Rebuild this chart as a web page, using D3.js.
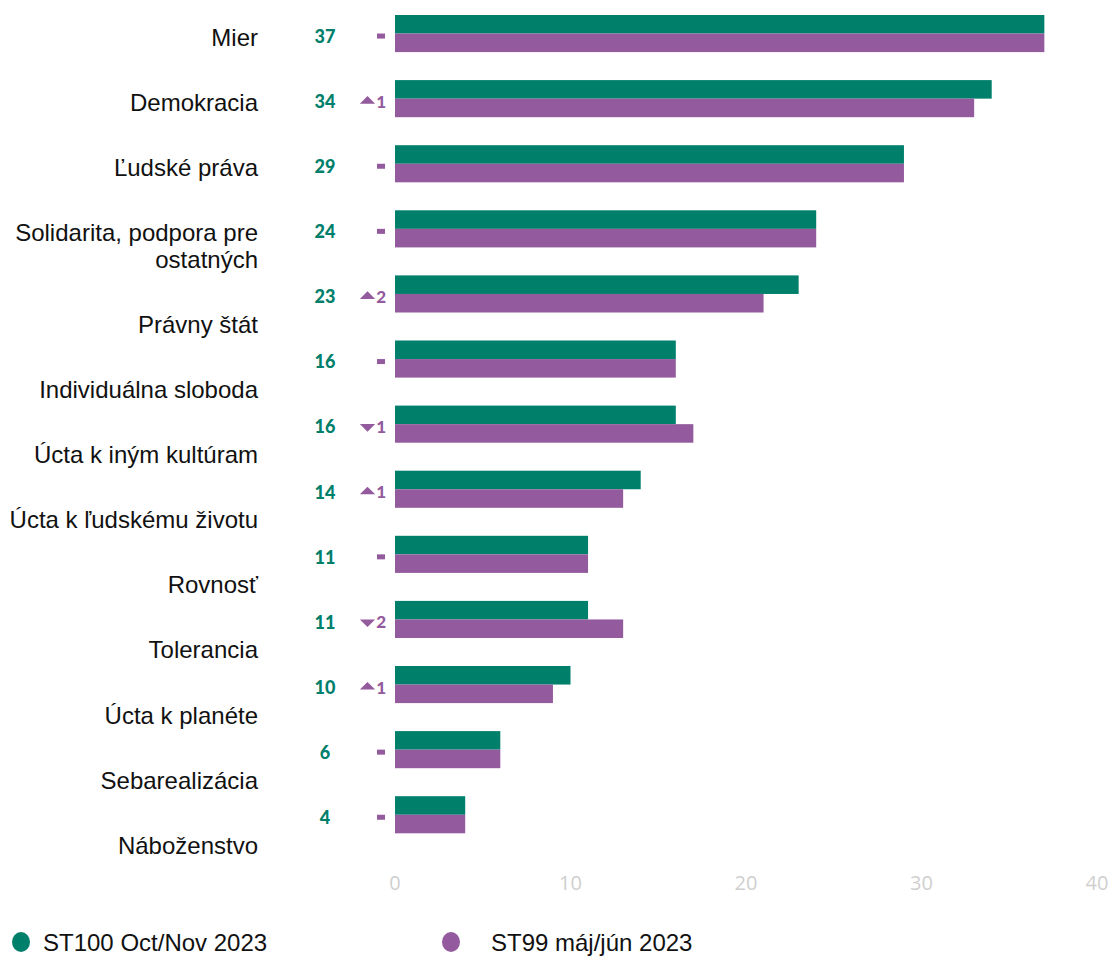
<!DOCTYPE html>
<html>
<head>
<meta charset="utf-8">
<script src="https://cdn.jsdelivr.net/npm/d3@7"></script>
<style>
  body { margin: 0; background: #fff; }
  svg { display: block; }
</style>
</head>
<body>
<svg id="chart" width="1115" height="957"></svg>
<script>
// Data
const categories = ["Mier", "Demokracia", "Ľudské práva", "Solidarita, podpora pre ostatných", "Právny štát",
    "Individuálna sloboda", "Úcta k iným kultúram", "Úcta k ľudskému životu", "Rovnosť", "Tolerancia",
    "Úcta k planéte", "Sebarealizácia", "Náboženstvo"];
const label_lines = [["Mier"], ["Demokracia"], ["Ľudské práva"], ["Solidarita, podpora pre", "ostatných"], ["Právny štát"],
    ["Individuálna sloboda"], ["Úcta k iným kultúram"], ["Úcta k ľudskému životu"], ["Rovnosť"], ["Tolerancia"],
    ["Úcta k planéte"], ["Sebarealizácia"], ["Náboženstvo"]];
const st100 = [37, 34, 29, 24, 23, 16, 16, 14, 11, 11, 10, 6, 4];
const st99 = [37, 33, 29, 24, 21, 16, 17, 13, 11, 13, 9, 6, 4];
// change vs previous wave: direction (1 up, -1 down, 0 equal) and amount
const change_dir = [0, 1, 0, 0, 1, 0, -1, 1, 0, -1, 1, 0, 0];
const change_val = [0, 1, 0, 0, 2, 0, 1, 1, 0, 2, 1, 0, 0];
const series = ["ST100 Oct/Nov 2023", "ST99 máj/jún 2023"];
const x_ticks = [0, 10, 20, 30, 40];

const green = "#007f6b";
const purple = "#935b9d";

const svg = d3.select("#chart");

const x = d3.scaleLinear().domain([0, 40]).range([395, 1097]);
// step of 65.1px per group, bar pair is 37px tall
const pad = 0.43;
const y = d3.scaleBand().domain(categories).range([15, 15 + 65.1 * (13 - pad)]).paddingInner(pad).paddingOuter(0);
const y_inner = d3.scaleBand().domain(["st100", "st99"]).range([0, y.bandwidth()]);

// bars
const groups = svg.append("g").selectAll("g")
    .data(categories)
    .join("g")
    .attr("transform", d => "translate(0," + y(d) + ")");

groups.append("rect")
    .attr("x", x(0))
    .attr("y", y_inner("st100"))
    .attr("width", (d, i) => x(st100[i]) - x(0))
    .attr("height", y_inner.bandwidth())
    .attr("fill", green);

groups.append("rect")
    .attr("x", x(0))
    .attr("y", y_inner("st99"))
    .attr("width", (d, i) => x(st99[i]) - x(0))
    .attr("height", y_inner.bandwidth())
    .attr("fill", purple);

// value labels (sit a little below the bar pair's middle)
const mid = y.bandwidth() / 2 + 3;
groups.append("text")
    .attr("x", 325)
    .attr("y", mid)
    .attr("dy", "0.35em")
    .attr("text-anchor", "middle")
    .attr("font-family", "Lato, 'Open Sans', sans-serif")
    .attr("font-weight", 900)
    .attr("font-size", 18)
    .attr("fill", green)
    .text((d, i) => st100[i]);

// change markers
groups.filter((d, i) => change_dir[i] === 0)
    .append("rect")
    .attr("x", 377)
    .attr("y", mid - 3)
    .attr("width", 8)
    .attr("height", 5)
    .attr("fill", purple);

const moved = groups.filter((d, i) => change_dir[i] !== 0);
moved.append("path")
    .attr("d", d3.symbol(d3.symbolTriangle, 60))
    .attr("transform", d => {
        const i = categories.indexOf(d);
        return "translate(367.5," + (mid - 0.5) + ") scale(1.3," + (change_dir[i] > 0 ? 0.75 : -0.75) + ")";
    })
    .attr("fill", purple);
moved.append("text")
    .attr("x", 386)
    .attr("y", mid)
    .attr("dy", "0.35em")
    .attr("text-anchor", "end")
    .attr("font-family", "Lato, 'Open Sans', sans-serif")
    .attr("font-weight", 900)
    .attr("font-size", 17)
    .attr("fill", purple)
    .text(d => change_val[categories.indexOf(d)]);

// category labels (stacked in their own column)
let extra = 0;
const label_g = svg.append("g")
    .attr("font-family", "'Liberation Sans', Arial, sans-serif")
    .attr("font-size", 24)
    .attr("fill", "#111")
    .attr("text-anchor", "end");
label_lines.forEach((lines, i) => {
    lines.forEach((line, j) => {
        label_g.append("text")
            .attr("x", 258)
            .attr("y", 45.5 + 65.1 * i + 27 * (extra + j))
            .text(line);
    });
    extra += lines.length - 1;
});

// x axis tick labels
svg.append("g").selectAll("text")
    .data(x_ticks)
    .join("text")
    .attr("x", d => x(d))
    .attr("y", 890)
    .attr("text-anchor", "middle")
    .attr("font-family", "'Open Sans', sans-serif")
    .attr("font-size", 20)
    .attr("fill", "#cfcfcf")
    .text(d => d);

// legend
const legend_pos = [[21, 43], [451, 491]];
const legend_colors = [green, purple];
series.forEach((s, i) => {
    svg.append("ellipse")
        .attr("cx", legend_pos[i][0])
        .attr("cy", 942)
        .attr("rx", 9)
        .attr("ry", 10)
        .attr("fill", legend_colors[i]);
    svg.append("text")
        .attr("x", legend_pos[i][1])
        .attr("y", 950.5)
        .attr("font-family", "'Liberation Sans', Arial, sans-serif")
        .attr("font-size", 24)
        .attr("fill", "#111")
        .text(s);
});
</script>
</body>
</html>
